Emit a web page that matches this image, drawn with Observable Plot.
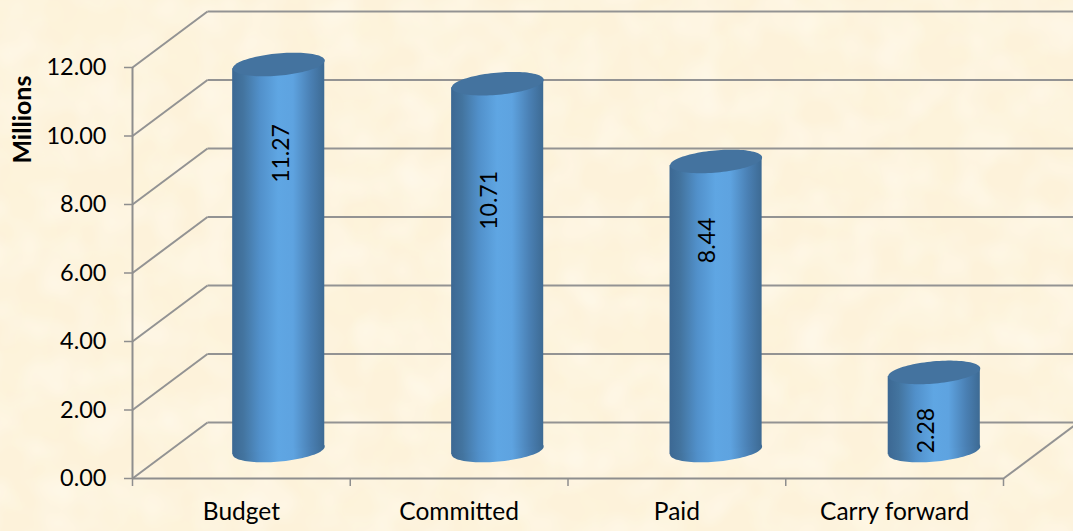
<!DOCTYPE html>
<html>
<head>
<meta charset="utf-8">
<script src="https://cdn.jsdelivr.net/npm/d3@7"></script>
<script src="https://cdn.jsdelivr.net/npm/@observablehq/plot@0.6"></script>
<style>
html,body{margin:0;padding:0;background:#fdf2da;}
#wrap{position:relative;width:1073px;height:531px;overflow:hidden;}
#tex{position:absolute;left:0;top:0;}
#chart{position:absolute;left:0;top:0;}
svg{font-family:Lato,"Open Sans",sans-serif;}
</style>
</head>
<body>
<div id="wrap">
<svg id="tex" width="1073" height="531">
  <filter id="mottle" x="0" y="0" width="100%" height="100%">
    <feTurbulence type="fractalNoise" baseFrequency="0.02" numOctaves="3" seed="7"/>
    <feColorMatrix type="matrix" values="0 0 0 0 0.98  0 0 0 0 0.92  0 0 0 0 0.72  1.0 0 0 0 -0.38"/>
  </filter>
  <filter id="mottle2" x="0" y="0" width="100%" height="100%">
    <feTurbulence type="fractalNoise" baseFrequency="0.025" numOctaves="2" seed="23"/>
    <feColorMatrix type="matrix" values="0 0 0 0 1  0 0 0 0 0.97  0 0 0 0 0.9  1.0 0 0 0 -0.36"/>
  </filter>
  <rect width="1073" height="531" filter="url(#mottle)"/>
  <rect width="1073" height="531" filter="url(#mottle2)"/>
</svg>
<div id="chart"></div>
</div>
<script>
const categories = ["Budget", "Committed", "Paid", "Carry forward"];
const values = [11.27, 10.71, 8.44, 2.28];
const valueLabels = ["11.27", "10.71", "8.44", "2.28"];
const labelHeights = [9.49, 8.12, 6.95, 1.40];
const labelSlots = [0.685, 1.64, 2.64, 3.645];
const cylinderSlots = [0.6715, 1.677, 2.68, 3.682];
const yTicks = [0, 2, 4, 6, 8, 10, 12];
const xTicks = [0, 1, 2, 3, 4];
const depthX = 0.3444;
const depthY = 1.635;
const halfBar = 0.2115;
const tilt = 0.122;
const gridColor = "#939393";
const axisColor = "#8e8e8e";

const rows = categories.map((name, i) => ({
  name, i, value: values[i], label: valueLabels[i],
  labelY: labelHeights[i], labelX: labelSlots[i],
  cx: cylinderSlots[i], base: depthY / 2, top: values[i] + depthY / 2
}));

// Each cylinder's side: its left and right edges follow the tilted ellipse ends.
const sides = rows.flatMap(d => [
  {name: d.name, x: d.cx - halfBar, y1: d.base - tilt, y2: d.top - tilt},
  {name: d.name, x: d.cx + halfBar, y1: d.base + tilt, y2: d.top + tilt}
]);

const ellipse = {
  draw(context, size) {
    const a = Math.sqrt(size / Math.PI), b = a * 0.24, t = -5.2 * Math.PI / 180;
    const n = 96;
    for (let k = 0; k < n; ++k) {
      const u = 2 * Math.PI * k / n;
      const px = a * Math.cos(u), py = b * Math.sin(u);
      const X = px * Math.cos(t) - py * Math.sin(t);
      const Y = px * Math.sin(t) + py * Math.cos(t);
      if (k === 0) context.moveTo(X, Y); else context.lineTo(X, Y);
    }
    context.closePath();
  }
};

const font = {fontFamily: "Lato, 'Open Sans', sans-serif"};

const chart = Plot.plot({
  width: 1073,
  height: 531,
  marginLeft: 132,
  marginRight: 70,
  marginTop: 67,
  marginBottom: 53,
  style: {background: "transparent", overflow: "hidden"},
  x: {type: "linear", domain: [0, 4]},
  y: {type: "linear", domain: [0, 12]},
  marks: [
    Plot.link(yTicks, {x1: 0, y1: d => d, x2: depthX, y2: d => d + depthY, stroke: gridColor, strokeWidth: 2}),
    Plot.link(yTicks, {x1: depthX, y1: d => d + depthY, x2: 4 + depthX, y2: d => d + depthY, stroke: gridColor, strokeWidth: 2}),
    Plot.link([0], {x1: 4, y1: 0, x2: 4 + depthX, y2: depthY, stroke: gridColor, strokeWidth: 2}),
    Plot.ruleX([0], {y1: 0, y2: 12, stroke: axisColor, strokeWidth: 2}),
    Plot.ruleY([0], {x1: 0, x2: 4, stroke: axisColor, strokeWidth: 2}),
    Plot.axisY({ticks: yTicks, tickSize: 8, tickPadding: 18, tickFormat: d => d.toFixed(2), label: null, stroke: axisColor, strokeWidth: 1.5, fontSize: 23.5, fill: "#000", ...font}),
    Plot.axisX({ticks: xTicks, tickSize: 8, tickFormat: () => "", label: null, stroke: axisColor, strokeWidth: 1.5}),
    Plot.dot(rows, {x: "cx", y: "base", r: 46.2, symbol: ellipse, fill: "url(#cyl)", stroke: "none"}),
    Plot.areaY(sides, {x: "x", y1: "y1", y2: "y2", z: "name", fill: "url(#cyl)"}),
    Plot.dot(rows, {x: "cx", y: "top", r: 46.2, symbol: ellipse, fill: "#44739f", stroke: "none"}),
    Plot.text(rows, {x: "labelX", y: "labelY", text: "label", rotate: -90, fontSize: 23, fill: "#000", ...font}),
    Plot.text(rows, {x: d => d.i + 0.5, y: 0, dy: 34, text: "name", fontSize: 24.5, fill: "#000", ...font}),
    Plot.text(["Millions"], {x: 0, y: 10.48, dx: -110, text: d => d, rotate: -90, fontSize: 25, fontWeight: "bold", fill: "#000", ...font})
  ]
});

const ns = "http://www.w3.org/2000/svg";
const defs = document.createElementNS(ns, "defs");
defs.innerHTML = `<linearGradient id="cyl" x1="0" x2="1" y1="0" y2="0">
  <stop offset="0" stop-color="#3c6893"/>
  <stop offset="0.12" stop-color="#43749f"/>
  <stop offset="0.3" stop-color="#5190ca"/>
  <stop offset="0.5" stop-color="#5fa6e3"/>
  <stop offset="0.66" stop-color="#5ea3e0"/>
  <stop offset="0.85" stop-color="#4a80b4"/>
  <stop offset="1" stop-color="#3d6a93"/>
</linearGradient>`;
chart.insertBefore(defs, chart.firstChild);
document.getElementById("chart").appendChild(chart);
</script>
</body>
</html>
